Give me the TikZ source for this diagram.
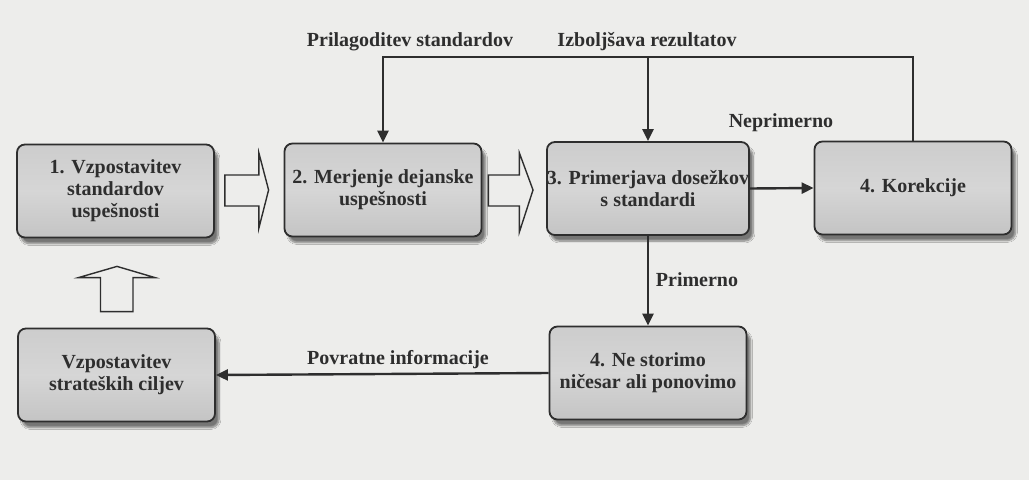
\documentclass[tikz,border=0pt]{standalone}
\usepackage{fontspec}
\setmainfont{Liberation Serif}
\usetikzlibrary{shadows.blur,arrows.meta,calc}
\definecolor{paper}{HTML}{EDEDEB}
\definecolor{ink}{HTML}{2E2E2E}
\definecolor{boxgray}{HTML}{C4C4C4}
\tikzset{
  stagebox/.style={draw=ink, line width=1.8pt, rounded corners=8pt,
    top color=boxgray!85, bottom color=boxgray, middle color=boxgray!70,
    minimum width=197pt, minimum height=93pt, align=center, inner xsep=0pt,
    font=\fontsize{20}{22}\selectfont\bfseries, text=ink,
    blur shadow={shadow xshift=4pt, shadow yshift=-6pt, shadow blur steps=8, shadow opacity=50}},
  flow/.style={draw=ink, line width=2.4pt, -{Triangle[length=12pt,width=11pt]}},
  lbl/.style={font=\fontsize{20}{22}\selectfont\bfseries, text=ink},
  hollow/.style={draw=ink, line width=1.4pt, fill=paper, line join=miter}
}
\begin{document}
\begin{tikzpicture}[x=1pt,y=-1pt]
  \fill[paper] (0,0) rectangle (1029,480);
  \useasboundingbox (0,0) rectangle (1029,480);

  % process stages
  \node[stagebox] (b1) at (115.5,191) {1. Vzpostavitev\\standardov\\uspešnosti};
  \node[stagebox] (b2) at (383,190) {2. Merjenje dejanske\\uspešnosti};
  \node[stagebox] (b3) at (648,188.5) {3. Primerjava dosežkov\\s standardi};
  \node[stagebox] (b4) at (913,188) {4. Korekcije};
  \node[stagebox] (b5) at (116.5,375) {Vzpostavitev\\strateških ciljev};
  \node[stagebox] (b6) at (648,373) {4. Ne storimo\\ničesar ali ponovimo};

  % hollow block arrows
  \draw[hollow] ($(b1.east)+(10,-16)$) -- ++(34,0) -- ++(0,-22) -- ($(b2.west)+(-15,0)$)
    -- ($(b1.east)+(44,37)$) -- ++(0,-22) -- ++(-34,0) -- cycle;
  \draw[hollow] ($(b2.east)+(6,-15)$) -- ++(31,0) -- ++(0,-22) -- ($(b3.west)+(-13,1.5)$)
    -- ($(b2.east)+(37,42)$) -- ++(0,-26) -- ++(-31,0) -- cycle;
  \draw[hollow] ($(b5.north)+(-16,-16)$) -- ++(0,-34) -- ++(-22,0) -- ($(b1.south)+(1.5,28)$)
    -- ($(b5.north)+(38.5,-50)$) -- ++(-22,0) -- ++(0,34) -- cycle;

  % feedback loop along the top
  \coordinate (tl) at (b2.north |- 0,57);
  \coordinate (tm) at (b3.north |- 0,57);
  \draw[flow] (b4.north) |- (tl) -- (b2.north);
  \draw[flow] (tm) -- (b3.north);

  % remaining connectors
  \draw[flow] (b3.east) -- (b4.west);
  \draw[flow] (b3.south) -- (b6.north);
  \draw[flow] (b6.west) -- (b5.east);

  % connector labels
  \node[lbl] (lp) at (410,42) {Prilagoditev standardov};
  \node[lbl] (li) at (647,42) {Izboljšava rezultatov};
  \node[lbl] (ln) at (781,123) {Neprimerno};
  \node[lbl] (lr) at (697,280) {Primerno};
  \node[lbl] (lf) at (398,360) {Povratne informacije};
\end{tikzpicture}
\end{document}
